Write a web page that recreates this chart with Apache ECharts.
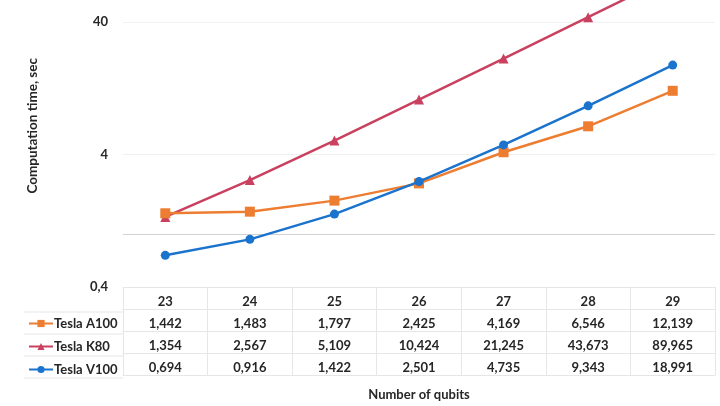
<!DOCTYPE html>
<html>
<head>
<meta charset="utf-8">
<script src="https://cdn.jsdelivr.net/npm/echarts@6/dist/echarts.min.js"></script>
<style>
  html, body { margin: 0; padding: 0; background: #ffffff; }
  #chart { width: 720px; height: 406px; }
</style>
</head>
<body>
<div id="chart"></div>
<script>
// Number of qubits (category axis / table header)
const qubits = ['23', '24', '25', '26', '27', '28', '29'];

// Computation time, seconds
const teslaA100 = [1.442, 1.483, 1.797, 2.425, 4.169, 6.546, 12.139];
const teslaK80  = [1.354, 2.567, 5.109, 10.424, 21.245, 43.673, 89.965];
const teslaV100 = [0.694, 0.916, 1.422, 2.501, 4.735, 9.343, 18.991];

const seriesNames = ['Tesla A100', 'Tesla K80', 'Tesla V100'];

// Log-axis labels and horizontal guide lines
const yTickLabels = [0.4, 4, 40];
const yGuideLines = [0.4, 1, 4, 40];

const FONT = 'Lato, "Open Sans", sans-serif';
const TEXT = '#262626';
const RULE = '#e6e6e6';
const COLORS = { a100: '#ED7D31', k80: '#C9415F', v100: '#1A73CC' };

const GRID = { left: 123, right: 5, top: 0, bottom: 116 };
const ROW_H = 22;
const tableTop = 406 - GRID.bottom;

// Decimal comma, as in the table
const fmt = v => v.toFixed(3).replace('.', ',');

const tableRows = [teslaA100, teslaK80, teslaV100];

const labelStyle = { fontFamily: FONT, fontWeight: 'bold', fontSize: 13, color: TEXT, margin: 8.5 };

// Header axis (category labels) plus one axis per table row
const xAxes = [{
  type: 'category',
  data: qubits,
  boundaryGap: true,
  axisLine: { show: true, lineStyle: { color: RULE, width: 1 } },
  axisTick: { show: true, interval: 0, length: ROW_H, lineStyle: { color: RULE } },
  axisLabel: Object.assign({ interval: 0 }, labelStyle),
  splitLine: { show: false }
}];
tableRows.forEach((row, k) => {
  xAxes.push({
    type: 'category',
    data: qubits,
    position: 'bottom',
    offset: ROW_H * (k + 1),
    boundaryGap: true,
    axisLine: { show: true, lineStyle: { color: RULE, width: 1 } },
    axisTick: { show: true, interval: 0, length: ROW_H, lineStyle: { color: RULE } },
    axisLabel: Object.assign({ interval: 0, formatter: (v, i) => fmt(row[i]) }, labelStyle),
    splitLine: { show: false }
  });
});
// Bottom rule of the table carrying the axis title
xAxes.push({
  type: 'category',
  data: qubits,
  position: 'bottom',
  offset: ROW_H * 4,
  axisLine: { show: true, lineStyle: { color: RULE, width: 1 } },
  axisTick: { show: false },
  axisLabel: { show: false },
  name: 'Number of qubits',
  nameLocation: 'middle',
  nameGap: 13,
  nameTextStyle: { fontFamily: FONT, fontWeight: 'bold', fontSize: 13, color: TEXT }
});

// Row separators across the legend column
const legendRules = [1, 2, 3, 4].map(k => ({
  type: 'line',
  shape: { x1: 24, y1: tableTop + ROW_H * k, x2: GRID.left, y2: tableTop + ROW_H * k },
  style: { stroke: RULE, lineWidth: 1 },
  silent: true
}));

const chart = echarts.init(document.getElementById('chart'), null, { renderer: 'canvas' });

chart.setOption({
  backgroundColor: '#ffffff',
  animation: false,
  grid: GRID,
  legend: {
    data: seriesNames,
    orient: 'vertical',
    left: 28,
    top: tableTop + ROW_H + 5,
    padding: 0,
    itemGap: 10,
    itemWidth: 24,
    itemHeight: 9,
    textStyle: { fontFamily: FONT, fontWeight: 'bold', fontSize: 13, color: TEXT, padding: [0, 0, 0, -4] }
  },
  xAxis: xAxes,
  yAxis: {
    type: 'log',
    logBase: 10,
    min: 0.4,
    max: 58.9,
    axisLine: { show: false },
    axisTick: { show: false, customValues: yGuideLines },
    axisLabel: {
      customValues: yTickLabels,
      margin: 15,
      fontFamily: FONT, fontWeight: 'bold', fontSize: 13, color: TEXT,
      formatter: v => String(v).replace('.', ',')
    },
    splitLine: { show: true, lineStyle: { color: ['#e6e6e6', '#d2d2d2', '#f0f0f0', '#f2f2f2'], width: 1 } }
  },
  graphic: legendRules.concat([{
    type: 'text',
    left: 26,
    top: 58,
    rotation: Math.PI / 2,
    style: {
      text: 'Computation time, sec',
      font: 'bold 13.5px ' + FONT,
      fill: TEXT
    }
  }]),
  series: [
    {
      name: 'Tesla A100', type: 'line', data: teslaA100, z: 3,
      symbol: 'rect', symbolSize: 10,
      lineStyle: { color: COLORS.a100, width: 2.5 },
      itemStyle: { color: COLORS.a100 }
    },
    {
      name: 'Tesla K80', type: 'line', data: teslaK80, z: 2,
      symbol: 'triangle', symbolSize: 10,
      lineStyle: { color: COLORS.k80, width: 2.5 },
      itemStyle: { color: COLORS.k80 }
    },
    {
      name: 'Tesla V100', type: 'line', data: teslaV100, z: 4,
      symbol: 'circle', symbolSize: 9,
      lineStyle: { color: COLORS.v100, width: 2.5 },
      itemStyle: { color: COLORS.v100 }
    }
  ]
});
</script>
</body>
</html>
